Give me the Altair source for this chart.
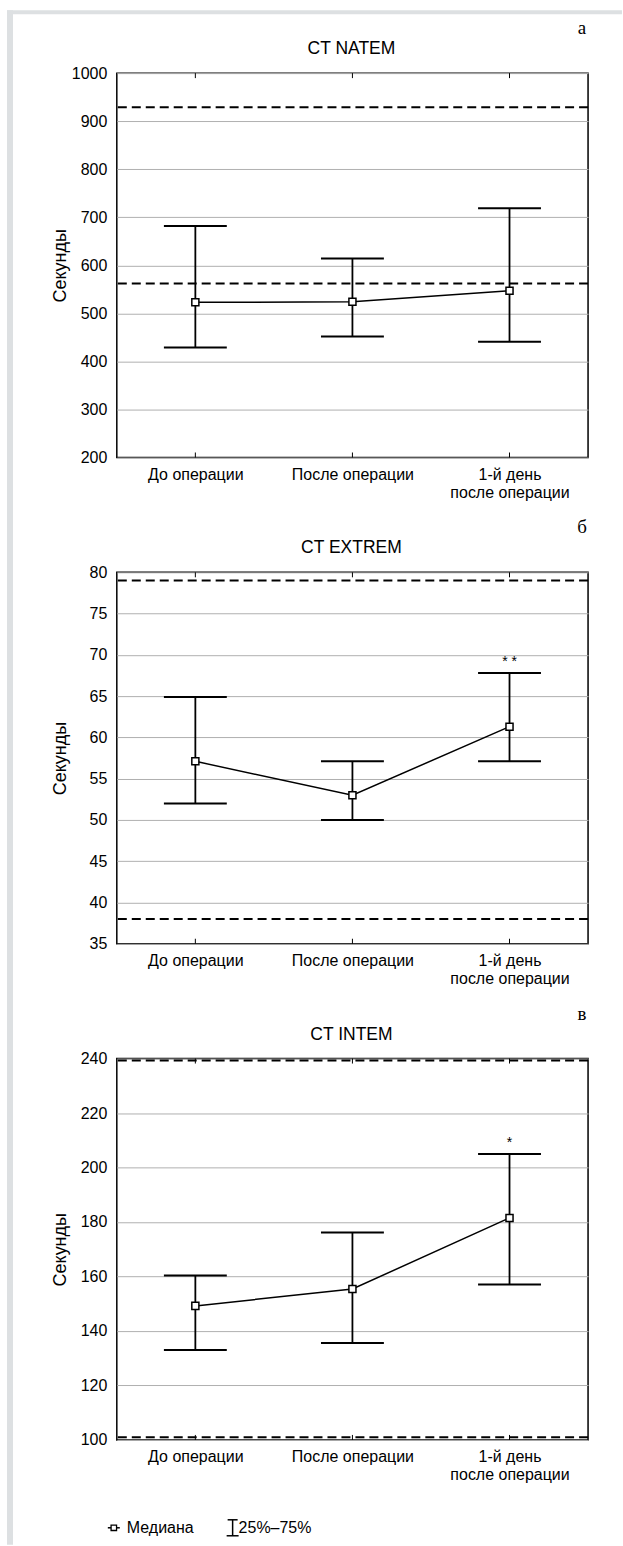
import altair as alt
import pandas as pd

# ---- data ----
categories = ["До операции", "После операции", "1-й день после операции"]

natem_median = [523, 524, 547]
natem_q1 = [429, 452, 441]
natem_q3 = [682, 614, 719]
natem_ref = [562, 929]
natem_marks = ["", "", ""]

extrem_median = [57.1, 53.0, 61.3]
extrem_q1 = [52.0, 50.0, 57.1]
extrem_q3 = [64.9, 57.1, 67.8]
extrem_ref = [38, 79]
extrem_marks = ["", "", "* *"]

intem_median = [149.2, 155.4, 181.5]
intem_q1 = [133.0, 135.6, 157.1]
intem_q3 = [160.4, 176.1, 205.0]
intem_ref = [101, 239.3]
intem_marks = ["", "", "*"]

panel_titles = ["CT NATEM", "CT EXTREM", "CT INTEM"]
panel_letters = ["а", "б", "в"]
y_title = "Секунды"
legend_labels = ["Медиана", "25%–75%"]

natem_ticks = [200, 300, 400, 500, 600, 700, 800, 900, 1000]
extrem_ticks = [35, 40, 45, 50, 55, 60, 65, 70, 75, 80]
intem_ticks = [100, 120, 140, 160, 180, 200, 220, 240]

W = 472
FONT = "Liberation Sans"
GRAY_BORDER = "#dde0e2"

label_expr = ("datum.label == '1-й день после операции' ? "
              "['1-й день', 'после операции'] : datum.label")


def panel(idx, med, q1, q3, refs, marks, ticks, height, legend=False, border=False):
    df = pd.DataFrame({"cat": categories, "med": med, "q1": q1, "q3": q3, "mark": marks})
    xs = alt.Scale(type="point", padding=0.5)
    ys = alt.Scale(domain=[ticks[0], ticks[-1]], nice=False, zero=False)
    x_axis = alt.Axis(title=None, labelAngle=0, ticks=False, domain=False, grid=False,
                      labelPadding=9, labelFontSize=16, labelExpr=label_expr,
                      labelLineHeight=18, labelColor="black")
    y_axis = alt.Axis(values=ticks, format="d", title=y_title, ticks=False, domain=False, grid=True,
                      gridColor="#b0b0b0", gridWidth=1, labelFontSize=16, labelPadding=10,
                      labelColor="black", titleFontSize=18, titleFontWeight="normal",
                      titleColor="black", titleX=-47, titleY=height / 2)
    X = alt.X("cat:N", sort=categories, scale=xs, axis=x_axis)

    def Y(field):
        return alt.Y(field, scale=ys, axis=y_axis)

    base = alt.Chart(df)
    median_line = base.mark_line(color="black", strokeWidth=1.5).encode(x=X, y=Y("med:Q"))
    whisk = base.mark_rule(color="black", strokeWidth=1.8).encode(x=X, y=Y("q1:Q"), y2="q3:Q")
    cap_lo = base.mark_tick(color="black", size=63, thickness=2, opacity=1).encode(x=X, y=Y("q1:Q"))
    cap_hi = base.mark_tick(color="black", size=63, thickness=2, opacity=1).encode(x=X, y=Y("q3:Q"))
    pts = base.mark_point(shape="square", size=50, fill="white", stroke="black",
                          strokeWidth=1.5, opacity=1, fillOpacity=1).encode(x=X, y=Y("med:Q"))
    stars = base.mark_text(fontSize=14, dy=-11, color="black", font=FONT).encode(
        x=X, y=Y("q3:Q"), text="mark:N")
    refdf = pd.DataFrame({"ref": refs})
    ref_lines = alt.Chart(refdf).mark_rule(color="black", strokeWidth=2, strokeDash=[9, 5]).encode(
        y=Y("ref:Q"))
    tick_top = base.mark_rule(color="black", strokeWidth=1).encode(
        x=X, y=alt.value(0), y2=alt.value(5))
    tick_bot = base.mark_rule(color="black", strokeWidth=1).encode(
        x=X, y=alt.value(height - 5), y2=alt.value(height))

    tdf = pd.DataFrame({"t": [panel_titles[idx]], "l": [panel_letters[idx]]})
    title = alt.Chart(tdf).mark_text(fontSize=17.5, font=FONT, color="black", baseline="middle").encode(
        text="t:N", x=alt.value(W / 2 - 1), y=alt.value(-24))
    letter = alt.Chart(tdf).mark_text(fontSize=19, font="Liberation Serif", color="black",
                                      baseline="middle").encode(
        text="l:N", x=alt.value(W - 6), y=alt.value(-45))

    layers = [median_line, ref_lines, whisk, cap_lo, cap_hi, pts, stars, tick_top, tick_bot,
              title, letter]

    if border:
        one = pd.DataFrame({"k": [0]})
        left_strip = alt.Chart(one).mark_rect(color=GRAY_BORDER).encode(
            x=alt.value(-110), x2=alt.value(-104), y=alt.value(-63), y2=alt.value(1474))
        top_strip = alt.Chart(one).mark_rect(color=GRAY_BORDER).encode(
            x=alt.value(-110), x2=alt.value(506), y=alt.value(-63), y2=alt.value(-59))
        layers = layers + [left_strip, top_strip]

    if legend:
        ly = height + 88
        ldf = pd.DataFrame({"a": [legend_labels[0]], "b": [legend_labels[1]]})
        lb = alt.Chart(ldf)
        seg = lb.mark_rule(color="black", strokeWidth=1.5).encode(
            x=alt.value(-9), x2=alt.value(3), y=alt.value(ly))
        sq = lb.mark_point(shape="square", size=30, fill="white", stroke="black",
                           strokeWidth=1.3, opacity=1, fillOpacity=1).encode(
            x=alt.value(-3), y=alt.value(ly))
        t1 = lb.mark_text(fontSize=16, font=FONT, align="left", baseline="middle", color="black").encode(
            text="a:N", x=alt.value(10), y=alt.value(ly))
        stem = lb.mark_rule(color="black", strokeWidth=1.5).encode(
            x=alt.value(116), y=alt.value(ly - 8), y2=alt.value(ly + 8))
        bar_t = lb.mark_rule(color="black", strokeWidth=1.5).encode(
            x=alt.value(111), x2=alt.value(121), y=alt.value(ly - 8))
        bar_b = lb.mark_rule(color="black", strokeWidth=1.5).encode(
            x=alt.value(110), x2=alt.value(122), y=alt.value(ly + 8))
        t2 = lb.mark_text(fontSize=16, font=FONT, align="left", baseline="middle", color="black").encode(
            text="b:N", x=alt.value(122), y=alt.value(ly))
        layers += [seg, sq, t1, stem, bar_t, bar_b, t2]

    return alt.layer(*layers).properties(width=W, height=height)


pa = panel(0, natem_median, natem_q1, natem_q3, natem_ref, natem_marks, natem_ticks, 385, border=True)
pb = panel(1, extrem_median, extrem_q1, extrem_q3, extrem_ref, extrem_marks, extrem_ticks, 372)
pc = panel(2, intem_median, intem_q1, intem_q3, intem_ref, intem_marks, intem_ticks, 382, legend=True)

chart = alt.vconcat(pa, pb, pc, spacing=115, bounds="flush").properties(
    padding={"left": 6, "top": 8, "right": 0, "bottom": 0},
    background="white",
).configure(font=FONT).configure_view(stroke="black", strokeWidth=1.5)

chart.save("out.html", embed_options={"renderer": "svg", "actions": False})
